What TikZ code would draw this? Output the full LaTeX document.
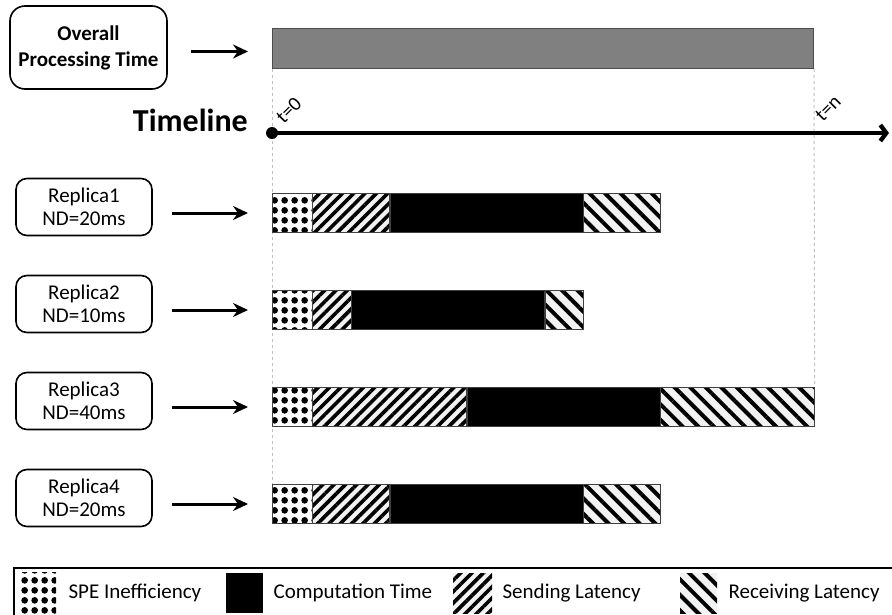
\documentclass[tikz,border=0pt]{standalone}
\usepackage{fontspec}
\setmainfont{Carlito}
\usetikzlibrary{calc,positioning,arrows.meta,patterns.meta}
\pgfdeclarelayer{background}
\pgfsetlayers{background,main}

\tikzdeclarepattern{
  name=spedots,
  type=uncolored,
  bottom left={(0pt,0pt)},
  top right={(10pt,10pt)},
  tile size={(10pt,10pt)},
  code={\fill (5pt,5pt) circle (3.6pt);}
}

\begin{document}
\begin{tikzpicture}[x=1pt,y=-1pt,
    labelbox/.style={draw,line width=1.6pt,rounded corners=11pt,minimum width=136pt,minimum height=57pt,inner sep=0pt,align=center,font={\fontsize{21}{23.5}\selectfont}},
    headbox/.style={labelbox,rounded corners=15pt,minimum width=157pt,minimum height=83pt,font={\bfseries\fontsize{21}{26}\selectfont}},
    arr/.style={line width=3pt,-{Stealth[length=15pt,width=14pt,inset=5pt]}},
    seg/.style={inner sep=0pt,minimum height=39pt,anchor=west,postaction={draw=black!75,line width=0.8pt}},
    spefill/.style={fill=white,postaction={pattern=spedots}},
    cmpfill/.style={fill=black},
    sndfill/.style={fill=black!5,postaction={pattern={Lines[angle=45,distance=8pt,line width=3.6pt]}}},
    rcvfill/.style={fill=black!5,postaction={pattern={Lines[angle=-45,distance=11pt,line width=4pt]}}},
    guide/.style={dashed,draw=black!25,line width=1pt},
    tlabel/.style={inner sep=0pt,rotate=45,anchor=south west,font={\fontsize{20}{22}\selectfont}},
    legkey/.style={inner sep=0pt,minimum height=40pt,anchor=west},
    legtext/.style={inner sep=0pt,font={\fontsize{21}{24}\selectfont}}]
            \useasboundingbox (0,0) rectangle (892,615);

            \node[headbox] (overall) at (88.5,47.5) {Overall\\Processing Time};
            \node[draw=black!70,line width=1pt,fill=black!50,inner sep=0pt,minimum width=541pt,minimum height=40pt,anchor=north west] (ptime) at (272,28) {};
            \draw[arr,shorten <=23pt,shorten >=24pt] ($ (overall.east) + (0,4) $) -- ($ (overall.east -| ptime.west) + (0,4) $);

            \node[circle,fill,inner sep=0pt,minimum size=12pt] (t0) at (272,133) {};
            \coordinate (tn) at (ptime.south east |- t0);
            \coordinate (tend) at (889,133);
            \draw[line width=4.3pt,-{Straight Barb[length=6pt,width=16pt]}] (t0.center) -- (tend);
            \node[inner sep=0pt,anchor=base east,font={\bfseries\fontsize{32}{38}\selectfont}] (tline) at ($ (t0) + (-24,-1) $) {Timeline};
            \begin{scope}[y=1pt]
                \node[tlabel] (lt0) at ($ (t0) + (12,8) $) {t=0};
                \node[tlabel] (ltn) at ($ (tn) + (9,10) $) {t=n};
            \end{scope}

            \foreach \i/\nd/\yy in {1/20/213,2/10/310,3/40/407,4/20/504}{
                \pgfmathsetmacro{\lat}{3.85*\nd}
                \node[spefill,seg,minimum width=40pt] (spe\i) at (272,\yy) {};
                \node[sndfill,seg,minimum width=\lat pt] (snd\i) at (spe\i.east) {};
                \node[cmpfill,seg,minimum width=193pt] (cmp\i) at (snd\i.east) {};
                \node[rcvfill,seg,minimum width=\lat pt] (rcv\i) at (cmp\i.east) {};
                \node[labelbox] (rep\i) at (84,\yy-6) {Replica\i\\ND=\nd ms};
                \draw[arr,shorten <=19pt,shorten >=24pt] (rep\i.east |- spe\i.west) -- (spe\i.west);
            }

            \begin{pgfonlayer}{background}
                \draw[guide] (ptime.south west) -- (spe4.north west);
                \draw[guide] (ptime.south east) -- (rcv3.north east);
            \end{pgfonlayer}

            \node[draw,line width=1.5pt,inner sep=0pt,minimum width=885pt,minimum height=48pt,anchor=north west] (legend) at (13,567) {};
            \node[legkey,spefill,minimum width=36pt,minimum height=42pt] (kspe) at (20,593) {};
            \node[legtext,right=12pt of kspe] (tspe) {SPE Inefficiency};
            \node[legkey,cmpfill,minimum width=37pt] (kcmp) at (226,593) {};
            \node[legtext,right=10pt of kcmp] (tcmp) {Computation Time};
            \node[legkey,sndfill,minimum width=39pt] (ksnd) at (453,593) {};
            \node[legtext,right=10pt of ksnd] (tsnd) {Sending Latency};
            \node[legkey,rcvfill,minimum width=37pt] (krcv) at (680,593) {};
            \node[legtext,right=11pt of krcv] (trcv) {Receiving Latency};
        \end{tikzpicture}
\end{document}
